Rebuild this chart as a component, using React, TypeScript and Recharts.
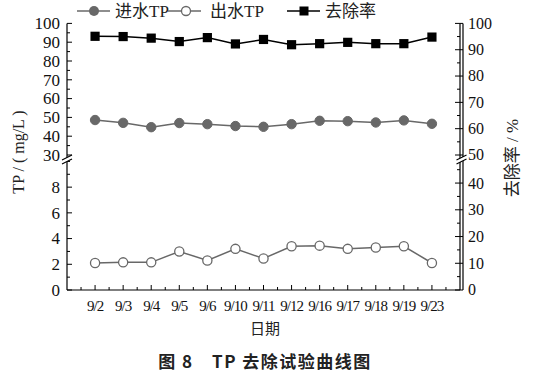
import React from 'react';
import { LineChart, Line, XAxis, YAxis } from 'recharts';

const categories = ['9/2', '9/3', '9/4', '9/5', '9/6', '9/10', '9/11', '9/12', '9/16', '9/17', '9/18', '9/19', '9/23'];
const inflowTP = [48.6, 47.1, 44.8, 47.0, 46.4, 45.4, 45.0, 46.4, 48.2, 48.0, 47.3, 48.4, 46.6];
const effluentTP = [2.1, 2.15, 2.15, 3.0, 2.3, 3.2, 2.45, 3.4, 3.45, 3.2, 3.3, 3.4, 2.1];
const removalRate = [95.1, 95.0, 94.4, 93.1, 94.6, 92.2, 93.9, 91.9, 92.3, 92.8, 92.3, 92.3, 94.8];

const xTicks = [0.5, 1, 1.5, 2, 2.5, 3, 3.5, 4, 4.5, 5, 5.5, 6, 6.5, 7, 7.5, 8, 8.5, 9, 9.5, 10, 10.5, 11, 11.5, 12, 12.5, 13, 13.5];
const leftTopTicks = [30, 35, 40, 45, 50, 55, 60, 65, 70, 75, 80, 85, 90, 95, 100];
const rightTopTicks = [50, 55, 60, 65, 70, 75, 80, 85, 90, 95, 100];
const leftBottomTicks = [0, 1, 2, 3, 4, 5, 6, 7, 8, 9, 10, 10.5];
const rightBottomTicks = [0, 5, 10, 15, 20, 25, 30, 35, 40, 45, 50.5];

const data = categories.map((date, i) => ({
  x: i + 1,
  date,
  inflow: inflowTP[i],
  effluent: effluentTP[i],
  removal: removalRate[i],
}));

const SERIF = '"Liberation Serif", "Times New Roman", "Noto Sans CJK SC", serif';
const CJK = '"Noto Sans CJK SC", "Noto Sans", sans-serif';
const GRAY = '#686868';
const AX = { stroke: '#000', strokeWidth: 1.2 };

const BreakMark = ({ x, y, w }: { x: number; y: number; w: number }) => (
  <g>
    <polygon points={`${x - w},${y + 4} ${x + w},${y - 1} ${x + w},${y + 3} ${x - w},${y + 8}`} fill="#fff" />
    <line x1={x - w} y1={y + 4} x2={x + w} y2={y - 1} stroke="#000" strokeWidth={1.1} />
    <line x1={x - w} y1={y + 8} x2={x + w} y2={y + 3} stroke="#000" strokeWidth={1.1} />
  </g>
);

const LeftTopTick = (props: any) => {
  const { x, y, payload } = props;
  const v = payload.value;
  const major = v % 10 === 0;
  return (
    <g>
      <line x1={x} x2={x + (major ? 5 : 3)} y1={y} y2={y} stroke="#000" strokeWidth={1} />
      {major && (
        <text x={x - 7} y={y} dy="0.34em" textAnchor="end" fontSize={17} fontFamily={SERIF} fill="#111">
          {v}
        </text>
      )}
    </g>
  );
};

const LeftBottomTick = (props: any) => {
  const { x, y, payload } = props;
  const v = payload.value;
  if (v === 10.5) return <BreakMark x={x} y={y + 1} w={5} />;
  const major = v % 2 === 0 && v <= 8;
  return (
    <g>
      <line x1={x} x2={x + (major ? 5 : 3)} y1={y} y2={y} stroke="#000" strokeWidth={1} />
      {major && (
        <text x={x - 7} y={y} dy="0.34em" textAnchor="end" fontSize={17} fontFamily={SERIF} fill="#111">
          {v}
        </text>
      )}
    </g>
  );
};

const RightTopTick = (props: any) => {
  const { x, y, payload } = props;
  const v = payload.value;
  const major = v % 10 === 0;
  return (
    <g>
      <line x1={x - (major ? 5 : 3)} x2={x + (major ? 3 : 0)} y1={y} y2={y} stroke="#000" strokeWidth={1} />
      {major && (
        <text x={x + 8} y={y} dy="0.34em" textAnchor="start" fontSize={16} fontFamily={SERIF} fill="#111">
          {v}
        </text>
      )}
    </g>
  );
};

const RightBottomTick = (props: any) => {
  const { x, y, payload } = props;
  const v = payload.value;
  if (v === 50.5) return <BreakMark x={x + 1.5} y={y + 1} w={5} />;
  const major = v % 10 === 0;
  return (
    <g>
      <line x1={x - (major ? 5 : 3)} x2={x + (major ? 3 : 0)} y1={y} y2={y} stroke="#000" strokeWidth={1} />
      {major && (
        <text x={x + 8} y={y} dy="0.34em" textAnchor="start" fontSize={16} fontFamily={SERIF} fill="#111">
          {v}
        </text>
      )}
    </g>
  );
};

const XTick = (props: any) => {
  const { x, y, payload } = props;
  const v = payload.value;
  const major = Number.isInteger(v);
  return (
    <g>
      <line x1={x} x2={x} y1={y} y2={y - (major ? 5 : 3)} stroke="#000" strokeWidth={1} />
      {major && (
        <text x={x} y={y + 21} textAnchor="middle" fontSize={15} fontFamily={SERIF} letterSpacing={-1} fill="#111">
          {categories[v - 1]}
        </text>
      )}
    </g>
  );
};

const SquareDot = (props: any) => {
  const { cx, cy, index } = props;
  if (cx == null || cy == null) return <g key={index} />;
  return <rect key={index} x={cx - 4.6} y={cy - 4.6} width={9.2} height={9.2} fill="#000" />;
};

export default function App() {
  return (
    <div style={{ position: 'absolute', left: 0, top: 0, width: 548, height: 382, background: '#fff' }}>
      <div style={{ position: 'absolute', left: 0, top: 0 }}>
        <LineChart width={548} height={180} data={data} margin={{ top: 23.4, right: 0, bottom: 25, left: 0 }}>
          <XAxis
            xAxisId="t"
            type="number"
            dataKey="x"
            domain={[0, 14]}
            allowDataOverflow
            orientation="top"
            height={0}
            tick={false}
            tickLine={false}
            axisLine={AX}
          />
          <YAxis
            yAxisId="l"
            orientation="left"
            type="number"
            width={67}
            domain={[30, 100]}
            allowDataOverflow
            ticks={leftTopTicks}
            interval={0}
            tickSize={0}
            tickMargin={0}
            tickLine={false}
            tick={<LeftTopTick />}
            axisLine={AX}
          />
          <YAxis
            yAxisId="r"
            orientation="right"
            type="number"
            width={3}
            domain={[50, 100]}
            allowDataOverflow
            ticks={rightTopTicks}
            interval={0}
            tickSize={0}
            tickMargin={0}
            tickLine={false}
            tick={<RightTopTick />}
            axisLine={AX}
          />
          <YAxis
            yAxisId="r2"
            orientation="right"
            type="number"
            width={85}
            domain={[50, 100]}
            allowDataOverflow
            tick={false}
            tickLine={false}
            axisLine={AX}
          />
          <Line
            xAxisId="t"
            yAxisId="l"
            type="linear"
            dataKey="inflow"
            stroke={GRAY}
            strokeWidth={1.5}
            dot={{ r: 4.7, fill: GRAY, stroke: GRAY, strokeWidth: 1 }}
            isAnimationActive={false}
          />
          <Line
            xAxisId="t"
            yAxisId="r"
            type="linear"
            dataKey="removal"
            stroke="#000"
            strokeWidth={1.5}
            dot={<SquareDot />}
            isAnimationActive={false}
          />
        </LineChart>
      </div>
      <div style={{ position: 'absolute', left: 0, top: 130 }}>
        <LineChart width={548} height={252} data={data} margin={{ top: 25, right: 0, bottom: 52, left: 0 }}>
          <XAxis
            xAxisId="b"
            type="number"
            dataKey="x"
            domain={[0, 14]}
            allowDataOverflow
            orientation="bottom"
            height={40}
            ticks={xTicks}
            interval={0}
            tickSize={0}
            tickMargin={0}
            tickLine={false}
            tick={<XTick />}
            axisLine={AX}
          />
          <YAxis
            yAxisId="l"
            orientation="left"
            type="number"
            width={67}
            domain={[0, 10.5]}
            allowDataOverflow
            ticks={leftBottomTicks}
            interval={0}
            tickSize={0}
            tickMargin={0}
            tickLine={false}
            tick={<LeftBottomTick />}
            axisLine={AX}
          />
          <YAxis
            yAxisId="r"
            orientation="right"
            type="number"
            width={3}
            domain={[0, 50.5]}
            allowDataOverflow
            ticks={rightBottomTicks}
            interval={0}
            tickSize={0}
            tickMargin={0}
            tickLine={false}
            tick={<RightBottomTick />}
            axisLine={AX}
          />
          <YAxis
            yAxisId="r2"
            orientation="right"
            type="number"
            width={85}
            domain={[0, 50.5]}
            allowDataOverflow
            tick={false}
            tickLine={false}
            axisLine={AX}
          />
          <Line
            xAxisId="b"
            yAxisId="l"
            type="linear"
            dataKey="effluent"
            stroke={GRAY}
            strokeWidth={1.5}
            dot={{ r: 4.6, fill: '#fff', stroke: GRAY, strokeWidth: 1.3 }}
            isAnimationActive={false}
          />
        </LineChart>
      </div>
      <svg
        width={548}
        height={382}
        style={{ position: 'absolute', left: 0, top: 0, pointerEvents: 'none' }}
      >
        {/* legend */}
        <line x1={77} x2={110} y1={11} y2={11} stroke={GRAY} strokeWidth={1.5} />
        <circle cx={94} cy={11} r={5} fill={GRAY} />
        <text x={115} y={17} fontSize={17} fontFamily={SERIF} fill="#222">进水TP</text>
        <line x1={168} x2={201} y1={11} y2={11} stroke={GRAY} strokeWidth={1.5} />
        <circle cx={186} cy={11} r={4.5} fill="#fff" stroke={GRAY} strokeWidth={1.3} />
        <text x={210} y={17} fontSize={17} fontFamily={SERIF} fill="#222">出水TP</text>
        <line x1={287} x2={320} y1={11} y2={11} stroke="#000" strokeWidth={1.5} />
        <rect x={299.5} y={6.5} width={9} height={9} fill="#000" />
        <text x={325} y={17} fontSize={17} fontFamily={SERIF} fill="#222">去除率</text>
        {/* axis titles */}
        <text
          x={0}
          y={0}
          transform="translate(23.5,152) rotate(-90)"
          textAnchor="middle"
          fontSize={16}
          fontFamily={SERIF}
          fill="#222"
        >
          TP / ( mg/L )
        </text>
        <text
          x={0}
          y={0}
          transform="translate(518,158) rotate(-90)"
          textAnchor="middle"
          fontSize={17}
          fontFamily={SERIF}
          fill="#222"
        >
          去除率 / %
        </text>
        <text x={265} y={334} textAnchor="middle" fontSize={15} fontFamily={CJK} fill="#222">日期</text>
        <text
          x={265}
          y={368}
          textAnchor="middle"
          fontSize={17}
          fontWeight={700}
          fontFamily={CJK}
          letterSpacing={1.5}
          fill="#222"
          style={{ whiteSpace: 'pre' }}
        >
          {'图 8\u2003TP 去除试验曲线图'}
        </text>
      </svg>
    </div>
  );
}
